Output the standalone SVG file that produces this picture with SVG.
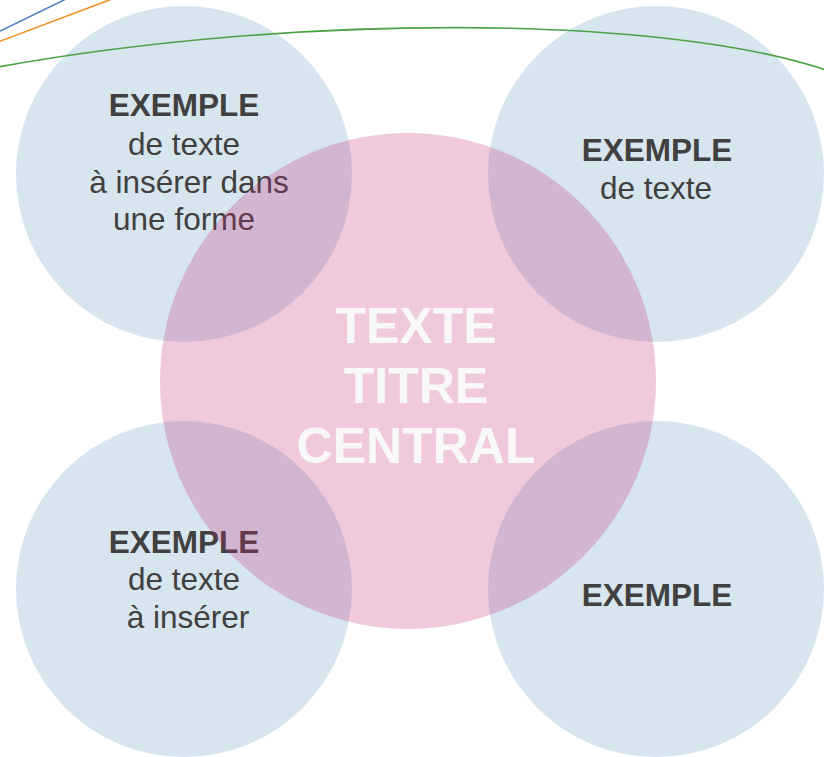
<svg xmlns="http://www.w3.org/2000/svg" width="824" height="757" viewBox="0 0 824 757">
<style>
.blue{fill:#D7E5EF}
.pink{fill:#C32B73;fill-opacity:0.25}
.t{font-family:"Liberation Sans",Arial,sans-serif;font-size:31.5px;fill:#404040;text-anchor:middle}
.b{font-weight:bold}
.title{font-family:"Liberation Sans",Arial,sans-serif;font-size:50px;font-weight:bold;fill:#F8F8F8;text-anchor:middle}
.ln{fill:none;stroke-width:1.6}
</style>
<rect width="824" height="757" fill="#FFFFFF"/>
<g id="node-tl">
<circle class="blue" cx="184" cy="174" r="168"/>
<text class="t b" x="184" y="116">EXEMPLE</text>
<text class="t" x="184" y="155">de texte</text>
<text class="t" x="189" y="193">à insérer dans</text>
<text class="t" x="184" y="230">une forme</text>
</g>
<g id="node-tr">
<circle class="blue" cx="656" cy="174" r="168"/>
<text class="t b" x="657" y="161">EXEMPLE</text>
<text class="t" x="656" y="199">de texte</text>
</g>
<g id="node-bl">
<circle class="blue" cx="184" cy="589" r="168"/>
<text class="t b" x="184" y="553">EXEMPLE</text>
<text class="t" x="184" y="590">de texte</text>
<text class="t" x="188" y="628">à insérer</text>
</g>
<g id="node-br">
<circle class="blue" cx="656" cy="589" r="168"/>
<text class="t b" x="657" y="606">EXEMPLE</text>
</g>
<g id="node-center">
<circle class="pink" cx="408" cy="381" r="248"/>
<text class="title" x="416" y="343">TEXTE</text>
<text class="title" x="416" y="403">TITRE</text>
<text class="title" x="416" y="463">CENTRAL</text>
</g>
<g id="connectors">
<path class="ln" stroke="#4F86C0" d="M-2,32 L66,-1"/>
<path class="ln" stroke="#F28E1E" d="M-2,42 L112,-1"/>
<path class="ln" stroke="#4BA346" d="M-2,67 C290,14 660,14 826,70"/>
</g>
</svg>
